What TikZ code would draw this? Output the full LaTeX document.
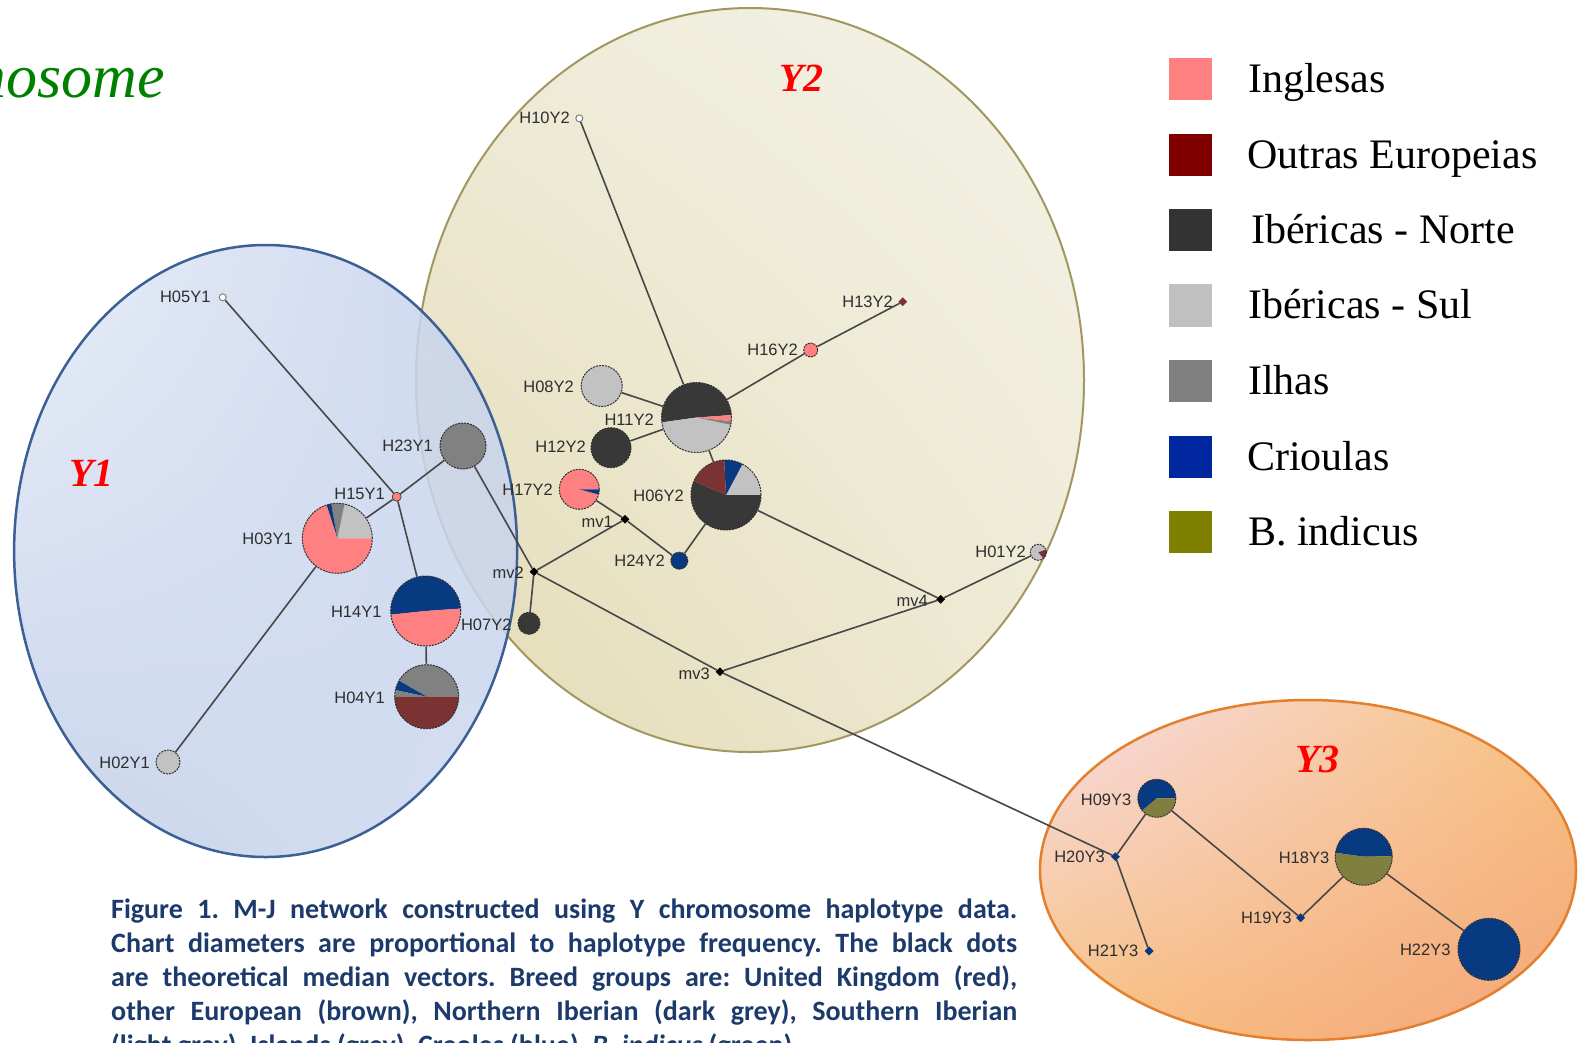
\documentclass[tikz,border=0pt]{standalone}
\usepackage{fontspec}
\setmainfont{Liberation Serif}
\newfontfamily\labelfam{Liberation Sans}
\newfontfamily\capfam{Carlito}
\usetikzlibrary{shapes.geometric,shadings}
\frenchspacing

% legend colours
\definecolor{cIng}{HTML}{FF8080}
\definecolor{cOut}{HTML}{800000}
\definecolor{cNor}{HTML}{333333}
\definecolor{cSul}{HTML}{C0C0C0}
\definecolor{cIlh}{HTML}{808080}
\definecolor{cCri}{HTML}{0026A0}
\definecolor{cInd}{HTML}{808000}
% pie colours
\definecolor{pPink}{HTML}{FF8080}
\definecolor{pBrown}{HTML}{7A3232}
\definecolor{pDark}{HTML}{383838}
\definecolor{pLight}{HTML}{C2C2C2}
\definecolor{pGray}{HTML}{818181}
\definecolor{pBlue}{HTML}{073A80}
\definecolor{pOlive}{HTML}{7F7F40}
% lines and text
\definecolor{linkc}{HTML}{474747}
\definecolor{outc}{HTML}{303030}
\definecolor{labc}{HTML}{2E2E2E}
\definecolor{capc}{HTML}{1C3A6B}
\definecolor{titlegreen}{HTML}{008000}
\definecolor{edgeA}{HTML}{3C5F95}
\definecolor{edgeB}{HTML}{A39660}
\definecolor{edgeC}{HTML}{E47F2D}
% ellipse shading corners
\definecolor{bUL}{HTML}{EEEBD8}
\definecolor{bUR}{HTML}{F3F2E6}
\definecolor{bLL}{HTML}{E3DBB4}
\definecolor{bLR}{HTML}{EEEAD5}
\definecolor{aUL}{HTML}{E6ECF7}
\definecolor{aUR}{HTML}{C2D0EC}
\definecolor{aLL}{HTML}{C0CEEA}
\definecolor{aLR}{HTML}{CFDAEF}
\definecolor{cUL}{HTML}{F6DCE8}
\definecolor{cUR}{HTML}{F8C37E}
\definecolor{cLL}{HTML}{F8C27F}
\definecolor{cLR}{HTML}{F3A47C}

\newcommand\labfont{\labelfam\fontsize{16.5}{18}\selectfont}
% one wedge of a pie: radius, start angle, end angle, colour
\newcommand\slc[4]{\fill[#4] (path picture bounding box.center) -- ++({-(#2)}:#1)
  arc[start angle={-(#2)}, end angle={-(#3)}, radius=#1] -- cycle;}

\begin{document}
\begin{tikzpicture}[x=1pt, y=-1pt,
  link/.style={draw=linkc, line width=1.6pt},
  hap/.style={circle, inner sep=0pt, minimum size=#1, draw=outc, line width=1pt,
              dash pattern=on 2pt off 1pt},
  tiny/.style={circle, inner sep=0pt, minimum size=7, draw=gray, line width=1pt, fill=white},
  med/.style={diamond, aspect=1, inner sep=0pt, minimum size=#1},
  lab/.style={font=\labfont, text=labc, inner sep=0pt, anchor=east},
  grp/.style={font=\bfseries\itshape\fontsize{40}{44}\selectfont, text=red, inner sep=0pt},
  sq/.style={rectangle, inner sep=0pt, minimum size=42.5, fill=#1},
  lgt/.style={font=\fontsize{42}{48}\selectfont, inner sep=0pt, anchor=base west},
  capline/.style={font=\capfam\bfseries\fontsize{28}{34}\selectfont, text=capc,
                  inner sep=0pt, anchor=base west}
]
\clip (0,0) rectangle (1587,1042);
\fill[white] (0,0) rectangle (1587,1042);

% ---- group ellipses ----
\shade[upper left=bUL, upper right=bUR, lower left=bLL, lower right=bLR]
  (750,380) ellipse [x radius=334, y radius=372];
\draw[edgeB, line width=2pt] (750,380) ellipse [x radius=334, y radius=372];

\shade[opacity=0.85, upper left=aUL, upper right=aUR, lower left=aLL, lower right=aLR]
  (265.6,551) ellipse [x radius=251.5, y radius=306];
\draw[edgeA, line width=2.5pt] (265.6,551) ellipse [x radius=251.5, y radius=306];

\shade[upper left=cUL, upper right=cUR, lower left=cLL, lower right=cLR]
  (1308,870) ellipse [x radius=268, y radius=170];
\draw[edgeC, line width=2.5pt] (1308,870) ellipse [x radius=268, y radius=170];

\node[grp] (gY1) at (91.7,473) {Y1};
\node[grp] (gY2) at (801.6,78) {Y2};
\node[grp] (gY3) at (1317.4,759.3) {Y3};

% ---- haplotypes, group Y1 ----
\node[tiny] (H05Y1) at (222.7,297.3) {};
\node[hap=46, fill=pGray] (H23Y1) at (463,446) {};
\node[circle, inner sep=0pt, minimum size=9, fill=pPink, draw=outc, line width=0.6pt] (H15Y1) at (396.7,496.7) {};
\node[hap=70, path picture={\slc{40}{0}{78}{pLight}\slc{40}{78}{100}{pGray}\slc{40}{100}{108}{pBlue}\slc{40}{108}{360}{pPink}}] (H03Y1) at (337.3,538.3) {};
\node[hap=70, path picture={\slc{40}{4}{186}{pBlue}\slc{40}{186}{364}{pPink}}] (H14Y1) at (425.7,611) {};
\node[hap=64, path picture={\slc{40}{0}{150}{pGray}\slc{40}{150}{168}{pBlue}\slc{40}{168}{180}{pGray}\slc{40}{180}{360}{pBrown}}] (H04Y1) at (426.7,696.7) {};
\node[hap=24, fill=pLight] (H02Y1) at (168,762) {};

% ---- haplotypes, group Y2 ----
\node[tiny] (H10Y2) at (579.3,118.3) {};
\node[med=9, fill=pBrown] (H13Y2) at (902.7,301.7) {};
\node[hap=14, fill=pPink] (H16Y2) at (810.7,350) {};
\node[hap=41, fill=pLight] (H08Y2) at (601.7,386) {};
\node[hap=70, path picture={\slc{40}{4}{188}{pDark}\slc{40}{188}{348}{pLight}\slc{40}{348}{354}{pGray}\slc{40}{354}{364}{pPink}}] (H11Y2) at (696.5,417.5) {};
\node[hap=40, fill=pDark] (H12Y2) at (611,447.7) {};
\node[hap=40, path picture={\slc{25}{0}{345}{pPink}\slc{25}{345}{360}{pBlue}}] (H17Y2) at (579.3,489.3) {};
\node[hap=70, path picture={\slc{40}{0}{62}{pLight}\slc{40}{62}{93}{pBlue}\slc{40}{93}{157}{pBrown}\slc{40}{157}{360}{pDark}}] (H06Y2) at (726,495) {};
\node[hap=17, fill=pBlue] (H24Y2) at (679.3,560.7) {};
\node[hap=22, fill=pDark] (H07Y2) at (529,623.3) {};
\node[hap=16, path picture={\slc{12}{20}{310}{pLight}\slc{12}{310}{380}{pBrown}}] (H01Y2) at (1038.3,552.3) {};

% ---- median vectors ----
\node[med=9, fill=black] (mv1) at (625,519.3) {};
\node[med=9, fill=black] (mv2) at (534,571.7) {};
\node[med=9, fill=black] (mv3) at (720,671.7) {};
\node[med=9, fill=black] (mv4) at (940.7,599.3) {};

% ---- haplotypes, group Y3 ----
\node[hap=38, path picture={\slc{25}{0}{220}{pBlue}\slc{25}{220}{360}{pOlive}}] (H09Y3) at (1156.8,798.3) {};
\node[med=9, fill=pBlue] (H20Y3) at (1115.4,856.7) {};
\node[med=9, fill=pBlue] (H21Y3) at (1149.1,951) {};
\node[med=9, fill=pBlue] (H19Y3) at (1300.6,917.7) {};
\node[hap=57, path picture={\slc{35}{1}{172}{pBlue}\slc{35}{172}{361}{pOlive}}] (H18Y3) at (1363.7,856.7) {};
\node[hap=62, fill=pBlue] (H22Y3) at (1489,949.3) {};

% ---- network links ----
\foreach \a/\b in {H05Y1/H15Y1, H15Y1/H23Y1, H15Y1/H03Y1, H15Y1/H14Y1, H14Y1/H04Y1,
  H03Y1/H02Y1, H23Y1/mv2, mv2/H07Y2, mv2/mv1, mv1/H17Y2, mv1/H24Y2, H24Y2/H06Y2,
  H06Y2/H11Y2, H11Y2/H10Y2, H11Y2/H08Y2, H11Y2/H12Y2, H11Y2/H16Y2, H16Y2/H13Y2,
  H06Y2/mv4, mv4/H01Y2, mv4/mv3, mv2/mv3, mv3/H20Y3, H20Y3/H09Y3, H20Y3/H21Y3,
  H09Y3/H19Y3, H19Y3/H18Y3, H18Y3/H22Y3}
  \draw[link] (\a) -- (\b);

% ---- haplotype labels ----
\node[lab] (tH05Y1) at (210.7,297) {H05Y1};
\node[lab] (tH23Y1) at (433,446) {H23Y1};
\node[lab] (tH15Y1) at (385,494) {H15Y1};
\node[lab] (tH03Y1) at (293,539) {H03Y1};
\node[lab] (tH14Y1) at (381.7,611.7) {H14Y1};
\node[lab] (tH04Y1) at (385,698) {H04Y1};
\node[lab] (tH02Y1) at (150,763) {H02Y1};
\node[lab] (tH07Y2) at (511.7,625) {H07Y2};
\node[lab] (tmv2) at (524,573) {mv2};
\node[lab] (tH10Y2) at (570,118) {H10Y2};
\node[lab] (tH13Y2) at (893,302) {H13Y2};
\node[lab] (tH16Y2) at (798,350) {H16Y2};
\node[lab] (tH08Y2) at (574,386.7) {H08Y2};
\node[lab] (tH11Y2) at (654,419.3) {H11Y2};
\node[lab] (tH12Y2) at (586,447) {H12Y2};
\node[lab] (tH17Y2) at (553,490) {H17Y2};
\node[lab] (tmv1) at (613,522) {mv1};
\node[lab] (tH24Y2) at (665,561) {H24Y2};
\node[lab] (tH06Y2) at (684,496) {H06Y2};
\node[lab] (tH01Y2) at (1026,552) {H01Y2};
\node[lab] (tmv4) at (928,600.7) {mv4};
\node[lab] (tmv3) at (710,674) {mv3};
\node[lab] (tH09Y3) at (1131.5,800) {H09Y3};
\node[lab] (tH20Y3) at (1104.9,857.3) {H20Y3};
\node[lab] (tH21Y3) at (1138.6,951) {H21Y3};
\node[lab] (tH19Y3) at (1291.8,918) {H19Y3};
\node[lab] (tH18Y3) at (1329.4,857.7) {H18Y3};
\node[lab] (tH22Y3) at (1450.7,950) {H22Y3};

% ---- heading ----
\node[font=\itshape\fontsize{62}{70}\selectfont, text=titlegreen, inner sep=0pt,
      anchor=base east] (head) at (165,97) {chromosome};

% ---- legend ----
\node[sq=cIng] (s1) at (1190.5,79) {};
\node[sq=cOut] (s2) at (1190.5,155) {};
\node[sq=cNor] (s3) at (1190.5,230) {};
\node[sq=cSul] (s4) at (1190.5,305.5) {};
\node[sq=cIlh] (s5) at (1190.5,381) {};
\node[sq=cCri] (s6) at (1190.5,457) {};
\node[sq=cInd] (s7) at (1190.5,532) {};
\node[lgt] (l1) at (1248,92) {Inglesas};
\node[lgt] (l2) at (1247,168) {Outras Europeias};
\node[lgt] (l3) at (1251,243) {Ibéricas - Norte};
\node[lgt] (l4) at (1248,318.5) {Ibéricas - Sul};
\node[lgt] (l5) at (1248,394) {Ilhas};
\node[lgt] (l6) at (1247,470) {Crioulas};
\node[lgt] (l7) at (1248,545) {B. indicus};

% ---- caption ----
\node[capline] (c1) at (111,918) {\makebox[906pt][s]{Figure 1. M-J network constructed using Y chromosome haplotype data.}};
\node[capline] (c2) at (111,952) {\makebox[906pt][s]{Chart diameters are proportional to haplotype frequency. The black dots}};
\node[capline] (c3) at (111,986) {\makebox[906pt][s]{are theoretical median vectors. Breed groups are: United Kingdom (red),}};
\node[capline] (c4) at (111,1020) {\makebox[906pt][s]{other European (brown), Northern Iberian (dark grey), Southern Iberian}};
\node[capline] (c5) at (111,1054) {(light grey), Islands (grey), Creoles (blue), \textit{B. indicus} (green).};
\end{tikzpicture}
\end{document}
